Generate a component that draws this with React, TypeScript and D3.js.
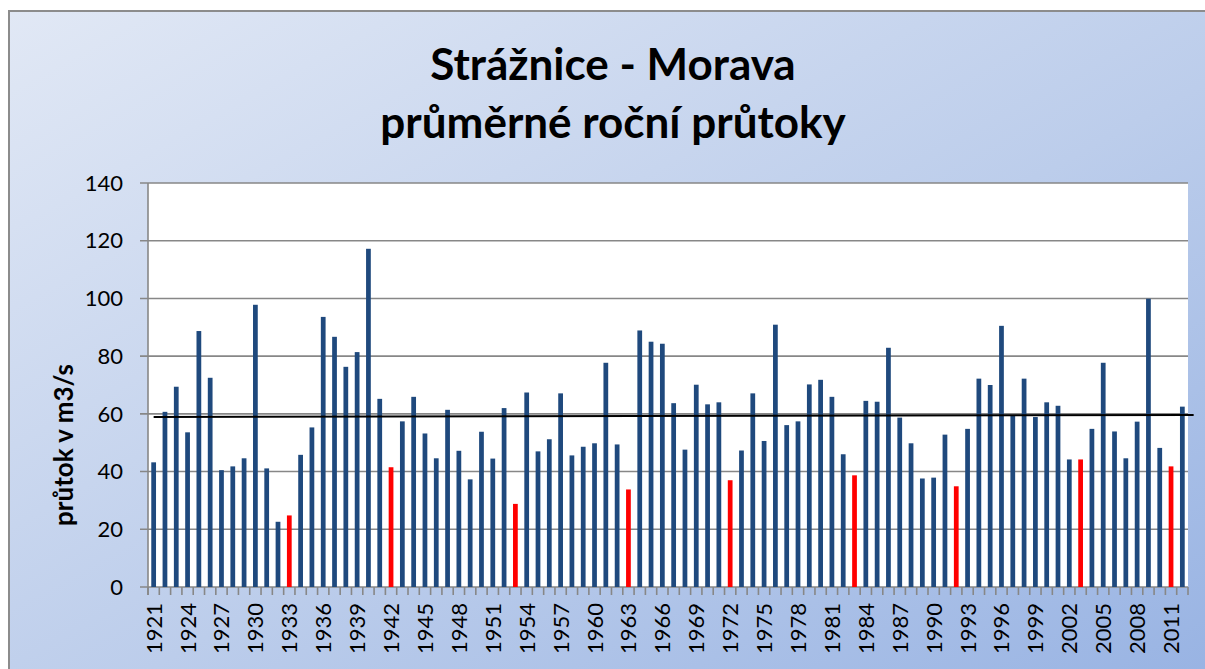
import React from "react";
import * as d3 from "d3";

const years: number[] = d3.range(1921, 2013);
const flows: number[] = [
  43.2, 60.7, 69.4, 53.6, 88.7, 72.5, 40.5, 41.8, 44.6, 97.8,
  41.1, 22.6, 24.8, 45.8, 55.3, 93.6, 86.7, 76.3, 81.4, 117.2,
  65.2, 41.5, 57.4, 65.9, 53.2, 44.6, 61.4, 47.2, 37.3, 53.8,
  44.5, 62.0, 28.8, 67.4, 47.0, 51.2, 67.1, 45.6, 48.6, 49.8,
  77.7, 49.4, 33.8, 88.9, 85.0, 84.3, 63.7, 47.6, 70.1, 63.3,
  64.0, 37.0, 47.3, 67.1, 50.6, 90.9, 56.1, 57.4, 70.2, 71.8,
  65.9, 46.0, 38.7, 64.5, 64.2, 82.9, 58.7, 49.8, 37.6, 37.9,
  52.8, 34.9, 54.8, 72.2, 70.0, 90.5, 59.4, 72.2, 58.9, 64.0,
  62.8, 44.2, 44.2, 54.8, 77.7, 53.9, 44.6, 57.3, 99.9, 48.2,
  41.8, 62.5,
];
const redYears: number[] = [1933, 1942, 1953, 1963, 1972, 1983, 1992, 2003, 2011];
const trendYears: number[] = [1921, 2013];
const trendValues: number[] = [58.9, 59.6];
const yTicks: number[] = [0, 20, 40, 60, 80, 100, 120, 140];
const xLabelYears: number[] = d3.range(1921, 2013, 3);
const titleLines: string[] = ["Strážnice - Morava", "průměrné roční průtoky"];
const yAxisTitle = "průtok v m3/s";

export default function App() {
  const W = 1205, H = 669;
  const left = 148, right = 1188, top = 183, bottom = 587;
  const x = d3.scaleBand<number>().domain(years).range([left, right]).paddingInner(0.58).paddingOuter(0.29);
  const y = d3.scaleLinear().domain([0, 140]).range([bottom, top]);
  const step = x.step();
  const cx = (yr: number) => left + step * (yr - 1921) + step / 2;
  const trendLine = d3.line<number>().x((_, i) => cx(trendYears[i])).y((v) => y(v));
  const font = "Lato, 'Open Sans', sans-serif";
  const boundaries = d3.range(years.length + 1).map((i) => left + i * step);

  return (
    <svg width={W} height={H} style={{ position: "absolute", left: 0, top: 0 }}>
      <defs>
        <linearGradient id="bg" x1="0" y1="0" x2="1" y2="1">
          <stop offset="0%" stopColor="#e1e8f5" />
          <stop offset="55%" stopColor="#bccdeb" />
          <stop offset="100%" stopColor="#98b3e3" />
        </linearGradient>
      </defs>
      <rect x={0} y={0} width={W} height={H} fill="#ffffff" />
      <rect x={9} y={11} width={W} height={H} fill="url(#bg)" stroke="#8c8c8c" strokeWidth={2} />
      {titleLines.map((t, i) => (
        <text key={i} x={613} y={80 + i * 58} textAnchor="middle" fontFamily={font} fontWeight="bold" fontSize={44} fill="#000">
          {t}
        </text>
      ))}
      <rect x={left} y={top} width={right - left} height={bottom - top} fill="#ffffff" />
      {yTicks.map((t) => (
        <g key={t}>
          <line x1={140} x2={right} y1={y(t)} y2={y(t)} stroke="#878787" strokeWidth={1.6} />
          <text x={123} y={y(t)} dy="0.35em" textAnchor="end" fontFamily={font} fontSize={22} fill="#000">
            {t}
          </text>
        </g>
      ))}
      <line x1={left} x2={left} y1={top} y2={bottom + 8} stroke="#878787" strokeWidth={1.6} />
      {boundaries.map((bx, i) => (
        <line key={i} x1={bx} x2={bx} y1={bottom} y2={bottom + 8} stroke="#878787" strokeWidth={1.6} />
      ))}
      {years.map((yr, i) => (
        <rect
          key={yr}
          x={x(yr)}
          y={y(flows[i])}
          width={x.bandwidth()}
          height={y(0) - y(flows[i])}
          fill={redYears.includes(yr) ? "#ff0000" : "#1f497d"}
        />
      ))}
      <path d={trendLine(trendValues) || ""} fill="none" stroke="#000" strokeWidth={2} />
      {xLabelYears.map((yr) => (
        <text
          key={yr}
          transform={`translate(${cx(yr) + 8},${603}) rotate(-90)`}
          textAnchor="end"
          fontFamily={font}
          fontSize={22}
          fill="#000"
        >
          {yr}
        </text>
      ))}
      <text
        transform={`translate(73,445) rotate(-90)`}
        textAnchor="middle"
        fontFamily={font}
        fontWeight="bold"
        fontSize={26}
        fill="#000"
      >
        {yAxisTitle}
      </text>
    </svg>
  );
}
